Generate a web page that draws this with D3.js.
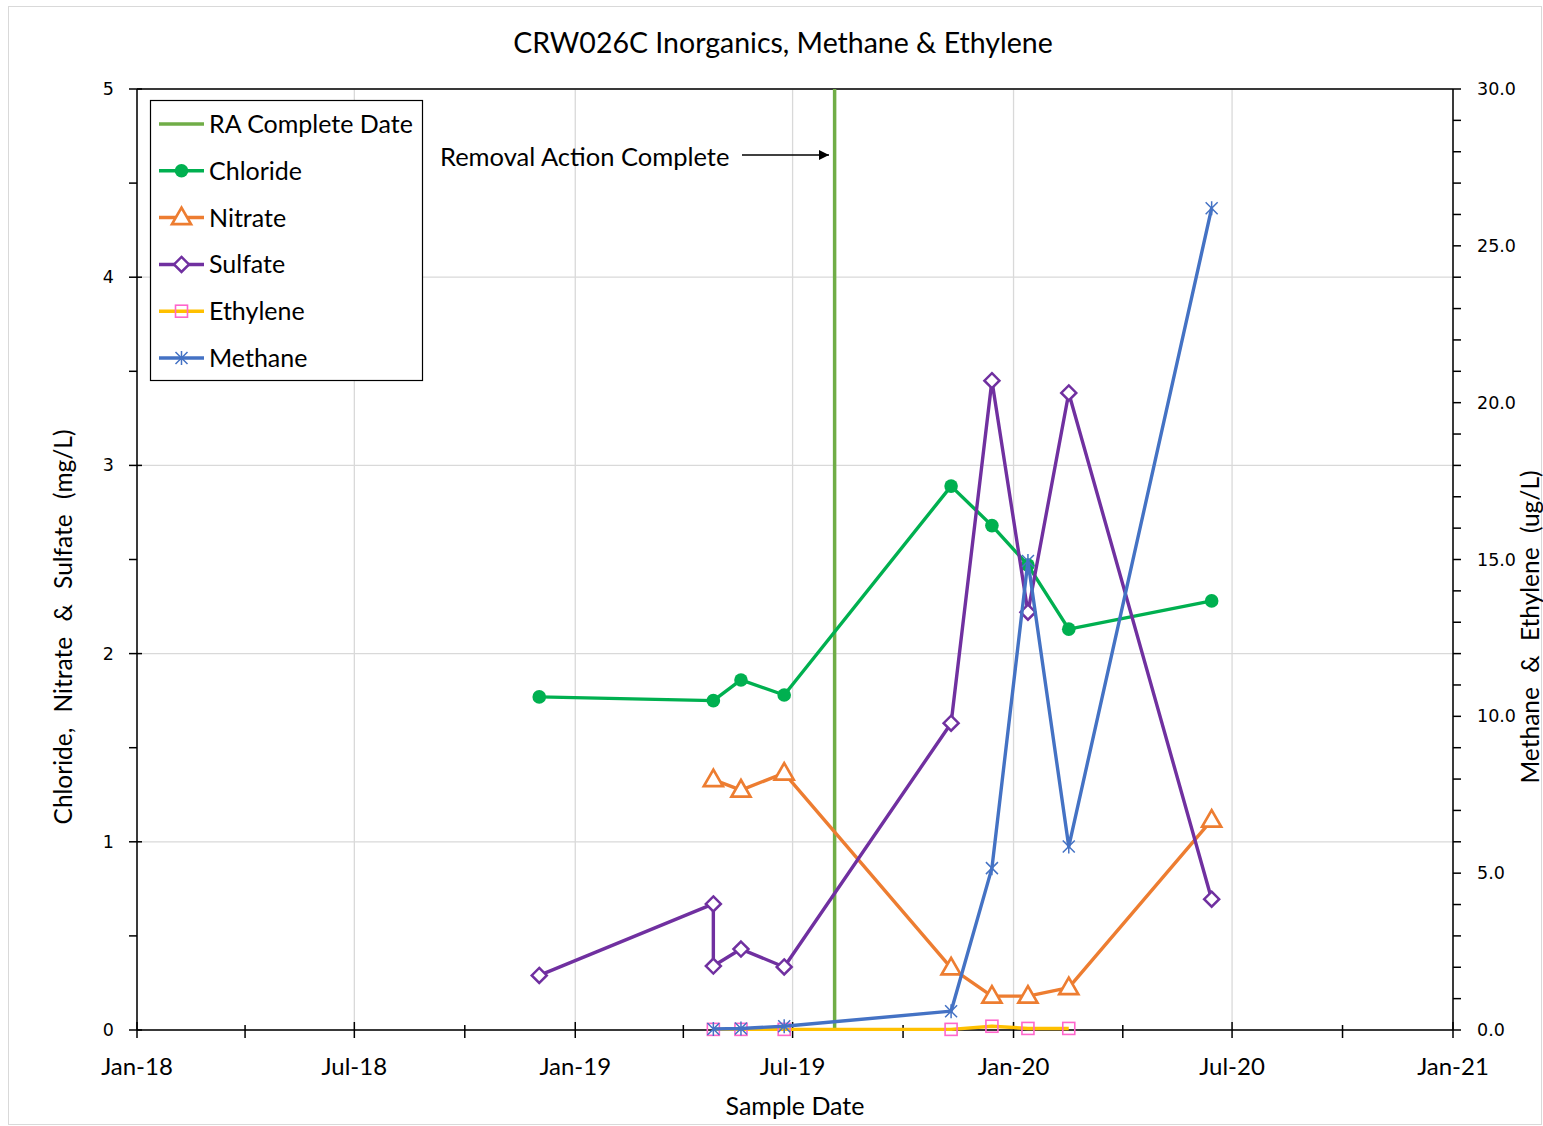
<!DOCTYPE html>
<html><head><meta charset="utf-8">
<script src="https://cdn.jsdelivr.net/npm/d3@7"></script>
<style>body{margin:0;background:#fff}svg{display:block}text{font-family:Lato,"Liberation Sans",sans-serif;fill:#000}</style>
</head><body><svg id="c" width="1543" height="1126"></svg>
<script>
// ---- data ----
const title = "CRW026C Inorganics, Methane & Ethylene";
const xTicks = ["2018-01-01","2018-07-01","2019-01-01","2019-07-01","2020-01-01","2020-07-01","2021-01-01"];
const raDate = "2019-08-05";
const chlorideDates = ["2018-12-02","2019-04-26","2019-05-19","2019-06-24","2019-11-10","2019-12-14","2020-01-13","2020-02-16","2020-06-14"];
const chlorideVals  = [1.77,1.75,1.86,1.78,2.89,2.68,2.47,2.13,2.28];
const nitrateDates  = ["2019-04-26","2019-05-19","2019-06-24","2019-11-10","2019-12-14","2020-01-13","2020-02-16","2020-06-14"];
const nitrateVals   = [1.33,1.275,1.365,0.33,0.18,0.18,0.225,1.115];
const sulfateDates  = ["2018-12-02","2019-04-26","2019-04-26","2019-05-19","2019-06-24","2019-11-10","2019-12-14","2020-01-13","2020-02-16","2020-06-14"];
const sulfateVals   = [0.29,0.67,0.34,0.43,0.335,1.63,3.45,2.22,3.385,0.695];
const ethyleneDates = ["2019-04-26","2019-05-19","2019-06-24","2019-11-10","2019-12-14","2020-01-13","2020-02-16"];
const ethyleneVals  = [0.02,0.02,0.02,0.02,0.12,0.05,0.05];
const methaneDates  = ["2019-04-26","2019-05-19","2019-06-24","2019-11-10","2019-12-14","2020-01-13","2020-02-16","2020-06-14"];
const methaneVals   = [0.03,0.05,0.12,0.6,5.16,14.95,5.85,26.2];
const leftTicks = [0,1,2,3,4,5];
const rightTicks = [0,5,10,15,20,25,30];

const P = d3.timeParse("%Y-%m-%d");
const fmt = d3.timeFormat("%b-%y");
const svg = d3.select("#c");
const L=137, R=1453, T=89, B=1030;
const x = d3.scaleTime().domain([P(xTicks[0]),P(xTicks[6])]).range([L,R]);
const yL = d3.scaleLinear().domain([0,5]).range([B,T]);
const yR = d3.scaleLinear().domain([0,30]).range([B,T]);

svg.append("rect").attr("x",8.5).attr("y",6.5).attr("width",1533).attr("height",1118).attr("fill","none").attr("stroke","#d9d9d9");

// gridlines
const grid = svg.append("g").attr("stroke","#d9d9d9").attr("stroke-width",1.3);
leftTicks.forEach(v=>grid.append("line").attr("x1",L).attr("x2",R).attr("y1",yL(v)).attr("y2",yL(v)));
xTicks.forEach(d=>grid.append("line").attr("x1",x(P(d))).attr("x2",x(P(d))).attr("y1",T).attr("y2",B));

// axes
const ax = svg.append("g").attr("stroke","#000").attr("stroke-width",1.5);
ax.append("line").attr("x1",L).attr("x2",R).attr("y1",T).attr("y2",T);
ax.append("line").attr("x1",L).attr("x2",R).attr("y1",B).attr("y2",B);
ax.append("line").attr("x1",L).attr("x2",L).attr("y1",T).attr("y2",B);
ax.append("line").attr("x1",R).attr("x2",R).attr("y1",T).attr("y2",B);
// left ticks
d3.range(0,5.01,0.5).forEach(v=>{
  const maj = Math.abs(v-Math.round(v))<1e-6;
  ax.append("line").attr("x1",L-8).attr("x2",maj?L+5:L).attr("y1",yL(v)).attr("y2",yL(v));
});
// right ticks
d3.range(0,30.01,1).forEach(v=>{
  ax.append("line").attr("x1",R).attr("x2",R+8).attr("y1",yR(v)).attr("y2",yR(v));
});
// x ticks: major every 6 months, minor every 3
d3.timeMonth.every(3).range(P(xTicks[0]),d3.timeDay.offset(P(xTicks[6]),1)).forEach(d=>{
  const maj = d.getMonth()%6===0;
  ax.append("line").attr("x1",x(d)).attr("x2",x(d)).attr("y1",maj?B-8:B-5).attr("y2",B+8);
});
// tick labels
leftTicks.forEach(v=>svg.append("text").attr("x",L-23).attr("y",yL(v)+6).attr("text-anchor","end").style("font-family","DejaVu Sans").attr("font-size",17.5).text(v));
rightTicks.forEach(v=>svg.append("text").attr("x",R+24).attr("y",yR(v)+6).style("font-family","DejaVu Sans").attr("font-size",17.5).text(v.toFixed(1)));
xTicks.forEach(d=>svg.append("text").attr("x",x(P(d))).attr("y",B+45).attr("text-anchor","middle").attr("font-size",24).text(fmt(P(d))));

// titles
svg.append("text").attr("x",783).attr("y",53).attr("text-anchor","middle").attr("font-size",28.5).text(title);
svg.append("text").attr("x",795).attr("y",1115).attr("text-anchor","middle").attr("font-size",25).text("Sample Date");
svg.append("text").attr("transform","translate(72,627) rotate(-90)").attr("text-anchor","middle").attr("font-size",24.5).style("word-spacing","9px").text("Chloride, Nitrate & Sulfate (mg/L)");
svg.append("text").attr("transform","translate(1539,627) rotate(-90)").attr("text-anchor","middle").attr("font-size",24.5).style("word-spacing","8px").text("Methane & Ethylene (ug/L)");

// RA line
svg.append("line").attr("x1",x(P(raDate))).attr("x2",x(P(raDate))).attr("y1",T).attr("y2",B).attr("stroke","#70AD47").attr("stroke-width",3.5);

// annotation
svg.append("text").attr("x",440).attr("y",166).attr("font-size",25.5).text("Removal Action Complete");
svg.append("defs").append("marker").attr("id","ah").attr("viewBox","0 0 10 10").attr("refX",10).attr("refY",5).attr("markerWidth",14).attr("markerHeight",10).attr("markerUnits","userSpaceOnUse").attr("orient","auto")
  .append("path").attr("d","M0,0L10,5L0,10z").attr("fill","#000");
svg.append("line").attr("x1",742).attr("x2",829).attr("y1",155).attr("y2",155).attr("stroke","#000").attr("stroke-width",1.3).attr("marker-end","url(#ah)");

// markers
function marker(g,type,cx,cy,col,fillCol){
  if(type==="circle") g.append("circle").attr("cx",cx).attr("cy",cy).attr("r",6.8).attr("fill",col);
  else if(type==="tri") g.append("path").attr("d",`M${cx},${cy-10}L${cx+9.5},${cy+6.5}L${cx-9.5},${cy+6.5}Z`).attr("fill","#fff").attr("stroke",col).attr("stroke-width",2.7);
  else if(type==="diamond") g.append("path").attr("d",`M${cx},${cy-7.5}L${cx+7.5},${cy}L${cx},${cy+7.5}L${cx-7.5},${cy}Z`).attr("fill","#fff").attr("stroke",col).attr("stroke-width",2.5);
  else if(type==="square") g.append("rect").attr("x",cx-6).attr("y",cy-6).attr("width",12).attr("height",12).attr("fill","none").attr("stroke",fillCol).attr("stroke-width",1.6);
  else if(type==="star") g.append("path").attr("d",`M${cx-6},${cy-6}L${cx+6},${cy+6}M${cx-6},${cy+6}L${cx+6},${cy-6}M${cx},${cy-7}L${cx},${cy+7}`).attr("stroke",col).attr("stroke-width",1.5).attr("fill","none");
}
const series = [
  {name:"Chloride",dates:chlorideDates,vals:chlorideVals,y:yL,col:"#00B050",m:"circle"},
  {name:"Nitrate",dates:nitrateDates,vals:nitrateVals,y:yL,col:"#ED7D31",m:"tri"},
  {name:"Sulfate",dates:sulfateDates,vals:sulfateVals,y:yL,col:"#7030A0",m:"diamond"},
  {name:"Ethylene",dates:ethyleneDates,vals:ethyleneVals,y:yR,col:"#FFC000",m:"square",mc:"#FF66CC"},
  {name:"Methane",dates:methaneDates,vals:methaneVals,y:yR,col:"#4472C4",m:"star"}
];
series.forEach(s=>{
  const pts = s.dates.map((d,i)=>[x(P(d)),s.y(s.vals[i])]);
  const g = svg.append("g");
  g.append("path").attr("d",d3.line()(pts)).attr("fill","none").attr("stroke",s.col).attr("stroke-width",3.4).attr("stroke-linejoin","round");
  pts.forEach(p=>marker(g,s.m,p[0],p[1],s.col,s.mc));
});

// legend
const lg = svg.append("g");
lg.append("rect").attr("x",150.5).attr("y",100.5).attr("width",272).attr("height",280).attr("fill","#fff").attr("stroke","#000").attr("stroke-width",1.2);
const legItems = [{name:"RA Complete Date",col:"#70AD47",m:null}].concat(series.map(s=>({name:s.name,col:s.col,m:s.m,mc:s.mc})));
legItems.forEach((it,i)=>{
  const cy = 124+i*46.8;
  lg.append("line").attr("x1",159).attr("x2",204).attr("y1",cy).attr("y2",cy).attr("stroke",it.col).attr("stroke-width",3.5);
  if(it.m) marker(lg,it.m,181.5,cy,it.col,it.mc);
  lg.append("text").attr("x",209).attr("y",cy+9).attr("font-size",25).text(it.name);
});
</script></body></html>
